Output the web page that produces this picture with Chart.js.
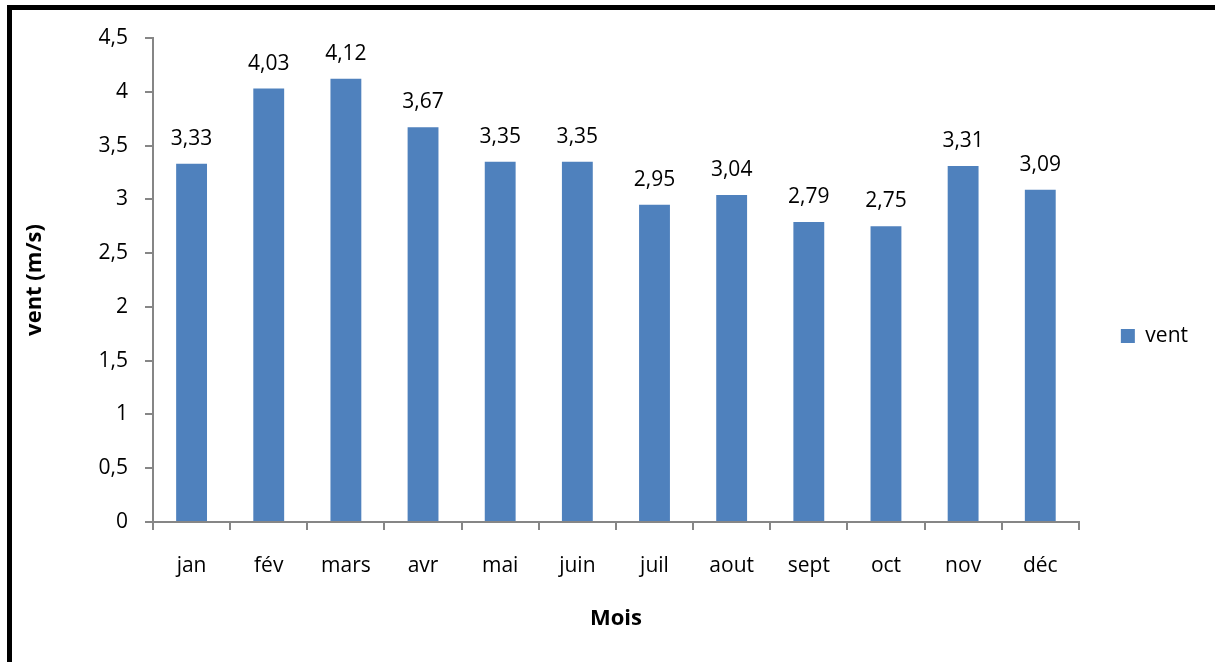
<!DOCTYPE html>
<html>
<head>
    <meta charset="utf-8">
    <title>vent par mois</title>
    <script src="https://cdn.jsdelivr.net/npm/chart.js"></script>
    <style>
        body { margin: 0; background: #fff; }
        #wrap { position: relative; width: 1215px; height: 662px; }
        #frame { position: absolute; left: 7px; top: 5px; right: 0; bottom: 0;
                 border-top: 5px solid #000; border-left: 5px solid #000; pointer-events: none; }
    </style>
</head>
<body>
<div id="wrap">
    <canvas id="barChart" width="1215" height="662"></canvas>
    <div id="frame"></div>
</div>
<script>
    // monthly mean wind speed
    const mois = ['jan', 'fév', 'mars', 'avr', 'mai', 'juin', 'juil', 'aout', 'sept', 'oct', 'nov', 'déc'];
    const vent = [3.33, 4.03, 4.12, 3.67, 3.35, 3.35, 2.95, 3.04, 2.79, 2.75, 3.31, 3.09];
    const yTicks = [0, 0.5, 1, 1.5, 2, 2.5, 3, 3.5, 4, 4.5];

    const fr = v => String(v).replace('.', ',');
    const axisGrey = '#868686';
    const font = 'Open Sans';

    // value labels above each bar
    const barLabels = {
        id: 'barLabels',
        afterDatasetsDraw(chart) {
            const ctx = chart.ctx;
            const meta = chart.getDatasetMeta(0);
            ctx.save();
            ctx.font = '21px "' + font + '"';
            ctx.fillStyle = '#000';
            ctx.textAlign = 'center';
            ctx.textBaseline = 'alphabetic';
            meta.data.forEach((bar, i) => {
                ctx.fillText(vent[i].toFixed(2).replace('.', ','), bar.x, bar.y - 19);
            });
            ctx.restore();
        }
    };

    new Chart(document.getElementById('barChart'), {
        type: 'bar',
        data: {
            labels: mois,
            datasets: [{
                label: 'vent',
                data: vent,
                backgroundColor: '#4f81bd',
                barPercentage: 0.4,
                categoryPercentage: 1
            }]
        },
        options: {
            responsive: false,
            animation: false,
            layout: { padding: { left: 12, top: 38, right: 17, bottom: 28 } },
            plugins: {
                title: { display: false },
                tooltip: { enabled: false },
                legend: {
                    position: 'right',
                    labels: {
                        boxWidth: 14,
                        boxHeight: 14,
                        padding: 42,
                        color: '#000',
                        font: { family: font, size: 21 }
                    }
                }
            },
            scales: {
                x: {
                    grid: {
                        display: true,
                        offset: true,
                        drawOnChartArea: false,
                        drawTicks: true,
                        tickLength: 8,
                        color: axisGrey,
                        lineWidth: 2
                    },
                    border: { color: axisGrey, width: 2 },
                    ticks: { color: '#000', padding: 23, font: { family: font, size: 21 } },
                    title: {
                        display: true,
                        text: 'Mois',
                        color: '#000',
                        font: { family: font, size: 22, weight: 'bold' },
                        padding: { top: 0, bottom: 2 }
                    },
                    afterFit(scale) { scale.height = 112; }
                },
                y: {
                    min: 0,
                    max: 4.5,
                    afterBuildTicks(scale) { scale.ticks = yTicks.map(v => ({ value: v })); },
                    grid: {
                        display: true,
                        drawOnChartArea: false,
                        drawTicks: true,
                        tickLength: 8,
                        color: axisGrey,
                        lineWidth: 2
                    },
                    border: { color: axisGrey, width: 2 },
                    ticks: {
                        color: '#000',
                        padding: 17,
                        font: { family: font, size: 21 },
                        callback: v => fr(v)
                    },
                    title: {
                        display: true,
                        text: 'vent (m/s)',
                        color: '#000',
                        font: { family: font, size: 22, weight: 'bold' },
                        padding: { top: 10, bottom: 0 }
                    },
                    afterFit(scale) { scale.width = 141; }
                }
            }
        },
        plugins: [barLabels]
    });
</script>
</body>
</html>
